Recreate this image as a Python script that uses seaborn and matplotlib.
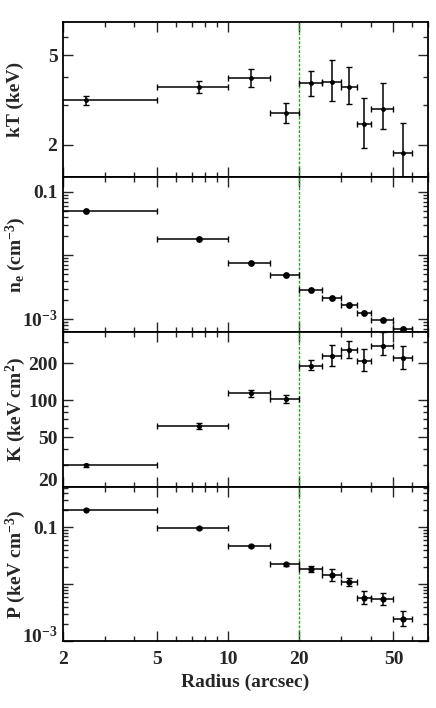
import numpy as np
import pandas as pd
import seaborn as sns
import matplotlib
matplotlib.use("Agg")
import matplotlib.pyplot as plt
from matplotlib.ticker import NullFormatter
from matplotlib.transforms import ScaledTranslation

# radial bins (arcsec)
radius = [2.5, 7.5, 12.5, 17.5, 22.5, 27.5, 32.5, 37.5, 45, 55]
r_inner = [1.0, 5, 10, 15, 20, 25, 30, 35, 40, 50]
r_outer = [5, 10, 15, 20, 25, 30, 35, 40, 50, 60]

# temperature (keV)
kT = [3.17, 3.63, 3.97, 2.77, 3.76, 3.82, 3.61, 2.47, 2.88, 1.84]
kT_low = [3.00, 3.39, 3.61, 2.49, 3.31, 3.12, 3.04, 1.94, 2.36, 1.35]
kT_high = [3.30, 3.86, 4.33, 3.08, 4.25, 4.78, 4.42, 3.22, 3.78, 2.51]

# electron density (cm^-3)
ne = [0.0493, 0.0181, 0.00755, 0.0049, 0.00288, 0.00216, 0.00166, 0.00124, 0.000964, 0.000697]

# entropy (keV cm^2)
K = [29.7, 62.0, 113.9, 102.4, 191.5, 229, 256.5, 210, 278, 222]
K_low = [29.0, 58.5, 107, 94.6, 175.6, 191.5, 220.5, 172.5, 234, 181]
K_high = [30.4, 65.5, 120.4, 110.5, 212.9, 283, 303, 261, 356, 275]

# pressure (keV cm^-3)
P = [0.207, 0.097, 0.047, 0.0224, 0.01855, 0.01456, 0.01097, 0.00575, 0.00546, 0.0025]
P_low = [0.203, 0.094, 0.0455, 0.0214, 0.01625, 0.0116, 0.00923, 0.00446, 0.00434, 0.00185]
P_high = [0.211, 0.100, 0.0485, 0.0235, 0.0213, 0.01855, 0.01274, 0.00763, 0.00695, 0.0034]

sns.set_style("ticks")
plt.rcParams['font.family'] = ['Liberation Serif', 'DejaVu Serif']
plt.rcParams['font.weight'] = 'bold'
plt.rcParams['axes.labelweight'] = 'bold'
plt.rcParams['mathtext.fontset'] = 'custom'
plt.rcParams['mathtext.rm'] = 'Liberation Serif:bold'
plt.rcParams['mathtext.it'] = 'Liberation Serif:bold'
plt.rcParams['mathtext.bf'] = 'Liberation Serif:bold'

r = np.array(radius)
xerr = [r - np.array(r_inner), np.array(r_outer) - r]

panels = [
    ("kT (keV)", kT, kT_low, kT_high, (1.44, 7.0),
     [2, 5], ["2", "5"], [3, 4, 6], 12),
    (r"n$_{\rm e}$ (cm$^{-3}$)", ne, None, None, (6.25e-4, 0.17),
     [0.1, 0.01, 0.001], ["0.1", "", r"$10^{-3}$"], None, 24),
    (r"K (keV cm$^2$)", K, K_low, K_high, (20, 360),
     [20, 50, 100, 200], ["20", "50", "100", "200"], [30, 40, 60, 70, 80, 90, 300], 14),
    (r"P (keV cm$^{-3}$)", P, P_low, P_high, (1e-3, 0.524),
     [0.1, 0.01, 0.001], ["0.1", "", r"$10^{-3}$"], None, 20),
]

fig, axes = plt.subplots(4, 1, figsize=(4.36, 7.08), dpi=100, sharex=True)
fig.subplots_adjust(left=0.1445, right=0.9817, top=0.9685, bottom=0.0942, hspace=0)

for i, (ax, (label, vals, low, high, ylim, yt, ytl, ymin, msize)) in enumerate(zip(axes, panels)):
    v = np.array(vals)
    if low is not None:
        yerr = [v - np.array(low), np.array(high) - v]
    else:
        yerr = None
    df = pd.DataFrame({"radius": radius, "value": vals})
    ax.errorbar(r, v, xerr=xerr, yerr=yerr, fmt="none", ecolor="black",
                elinewidth=1.1, capsize=2.2, capthick=1.0)
    sns.scatterplot(data=df, x="radius", y="value", ax=ax, color="black",
                    s=msize, edgecolor="black", linewidth=0, zorder=3)
    ax.axvline(20, color="#2aa02a", lw=1.0, ls=(0, (2, 1.2)), zorder=1)
    ax.set_xscale("log")
    ax.set_yscale("log")
    ax.set_xlim(2, 70)
    ax.set_ylim(*ylim)
    ax.set_yticks(yt, ytl)
    if ymin is not None:
        ax.set_yticks(ymin, minor=True)
    ax.yaxis.set_minor_formatter(NullFormatter())
    ax.set_ylabel(label, fontsize=14)
    ax.yaxis.set_label_coords(-0.13, 0.5)
    ax.yaxis.label.set_va("center")
    ax.set_xlabel("")
    ax.tick_params(which="both", direction="in", top=True, right=True,
                   width=1.0, labelsize=14)
    ax.tick_params(which="major", length=7, pad=4)
    ax.tick_params(which="minor", length=3.5)
    for sp in ax.spines.values():
        sp.set_linewidth(1.3)
        sp.set_color("black")

# lift the lowest tick labels of the K and P panels off the panel edge
lift = ScaledTranslation(0, 5 / 72, fig.dpi_scale_trans)
for ax in (axes[2], axes[3]):
    lab = ax.get_yticklabels()[0 if ax is axes[2] else 2]
    lab.set_transform(lab.get_transform() + lift)

axes[-1].set_xticks([2, 5, 10, 20, 50], ["2", "5", "10", "20", "50"])
axes[-1].set_xticks([3, 4, 6, 7, 8, 9, 30, 40, 60, 70], minor=True)
axes[-1].xaxis.set_minor_formatter(NullFormatter())
axes[-1].tick_params(axis="x", which="major", pad=7)
axes[-1].set_xlabel("Radius (arcsec)", fontsize=14)

plt.savefig("out.png", dpi=100)
